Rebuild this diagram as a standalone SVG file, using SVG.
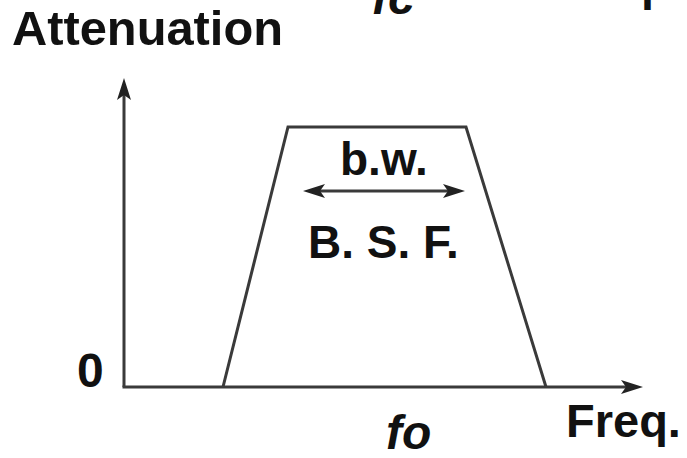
<svg xmlns="http://www.w3.org/2000/svg" width="687" height="458" viewBox="0 0 687 458">
<defs>
<style>
.ln{fill:none;stroke:#3a3a3a;stroke-width:3;stroke-linejoin:miter}
.t{font-family:"Liberation Sans",Arial,sans-serif;font-weight:bold;fill:#111}
.i{font-style:italic}
</style>
<marker id="ah" markerUnits="userSpaceOnUse" markerWidth="24" markerHeight="16" viewBox="0 0 24 16" refX="10" refY="8" orient="auto-start-reverse">
<path d="M22,8 L0,1 L5,8 L0,15 Z" fill="#222"/>
</marker>
</defs>
<rect width="687" height="458" fill="#fff"/>
<g id="top-cut-labels">
<text class="t i" x="372" y="14" font-size="48">fc</text>
<text class="t" x="552" y="0" font-size="47">Freq.</text>
</g>
<g id="label-attenuation"><text class="t" x="12" y="45" font-size="48" textLength="271" lengthAdjust="spacingAndGlyphs">Attenuation</text></g>
<g id="connectors">
<line class="ln" x1="124" y1="387" x2="124" y2="90" marker-end="url(#ah)"/>
<line class="ln" x1="122.5" y1="387" x2="631" y2="387" marker-end="url(#ah)"/>
<line class="ln" x1="315" y1="191" x2="453" y2="191" marker-start="url(#ah)" marker-end="url(#ah)"/>
</g>
<g id="curve"><polyline class="ln" points="223,387 288,127 466,127 546,387"/></g>
<g id="label-zero"><text class="t" x="77" y="387" font-size="48">0</text></g>
<g id="label-bw"><text class="t" x="340" y="175" font-size="46">b.w.</text></g>
<g id="label-bsf"><text class="t" x="308" y="258" font-size="46">B. S. F.</text></g>
<g id="label-fo"><text class="t i" x="386" y="449" font-size="48">fo</text></g>
<g id="label-freq"><text class="t" x="566" y="437" font-size="47">Freq.</text></g>
</svg>
